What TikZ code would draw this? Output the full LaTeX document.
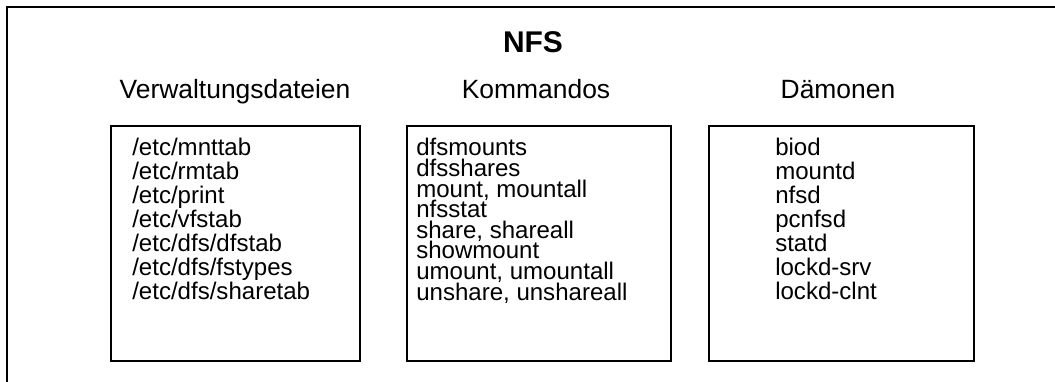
\documentclass[tikz,border=0pt]{standalone}
\usepackage{fontspec}
\setmainfont{Liberation Sans}
\usepackage{tikz}

\begin{document}
\begin{tikzpicture}[x=0.025cm, y=0.025cm,
  frame/.style={line width=1.4pt, line join=miter},
  headtext/.style={anchor=base, inner sep=0pt, font=\fontsize{18.8}{22}\selectfont},
  listtext/.style={anchor=base west, inner sep=0pt, text height=0.72em, text depth=0.1em,
    font=\fontsize{17.1}{20}\selectfont}]
\useasboundingbox (0,0) rectangle (1055,382);
% outer frame, cut off at the right and at the bottom
\coordinate (FL) at (7,-10);
\coordinate (FC) at (7,375);
\coordinate (FR) at (1070,375);
\draw[frame] (FL) -- (FC) -- (FR);
\node[anchor=base, inner sep=0pt, font=\fontsize{21.3}{25}\selectfont\bfseries] (nfs) at (533,329) {NFS};
% column heads
\node[headtext] (verw) at (235,283) {Verwaltungsdateien};
\node[headtext] (komm) at (536,283) {Kommandos};
\node[headtext] (daem) at (838,283) {Dämonen};
% boxes
\draw[frame] (111,21) rectangle (360,256);
\draw[frame] (407,21) rectangle (671,256);
\draw[frame] (709,21) rectangle (974,256);
% lists
\foreach \t [count=\i] in {/etc/mnttab, /etc/rmtab, /etc/print, /etc/vfstab,
    /etc/dfs/dfstab, /etc/dfs/fstypes, /etc/dfs/sharetab}
  \node[listtext] (v\i) at ({132},{226-24*(\i-1)}) {\t};
\foreach \t [count=\i] in {dfsmounts, dfsshares, {mount, mountall}, nfsstat,
    {share, shareall}, showmount, {umount, umountall}, {unshare, unshareall}}
  \node[listtext] (k\i) at ({416},{226-20.6*(\i-1)}) {\t};
\foreach \t [count=\i] in {biod, mountd, nfsd, pcnfsd, statd, lockd-srv, lockd-clnt}
  \node[listtext] (d\i) at ({775},{226-24*(\i-1)}) {\t};
\end{tikzpicture}
\end{document}
